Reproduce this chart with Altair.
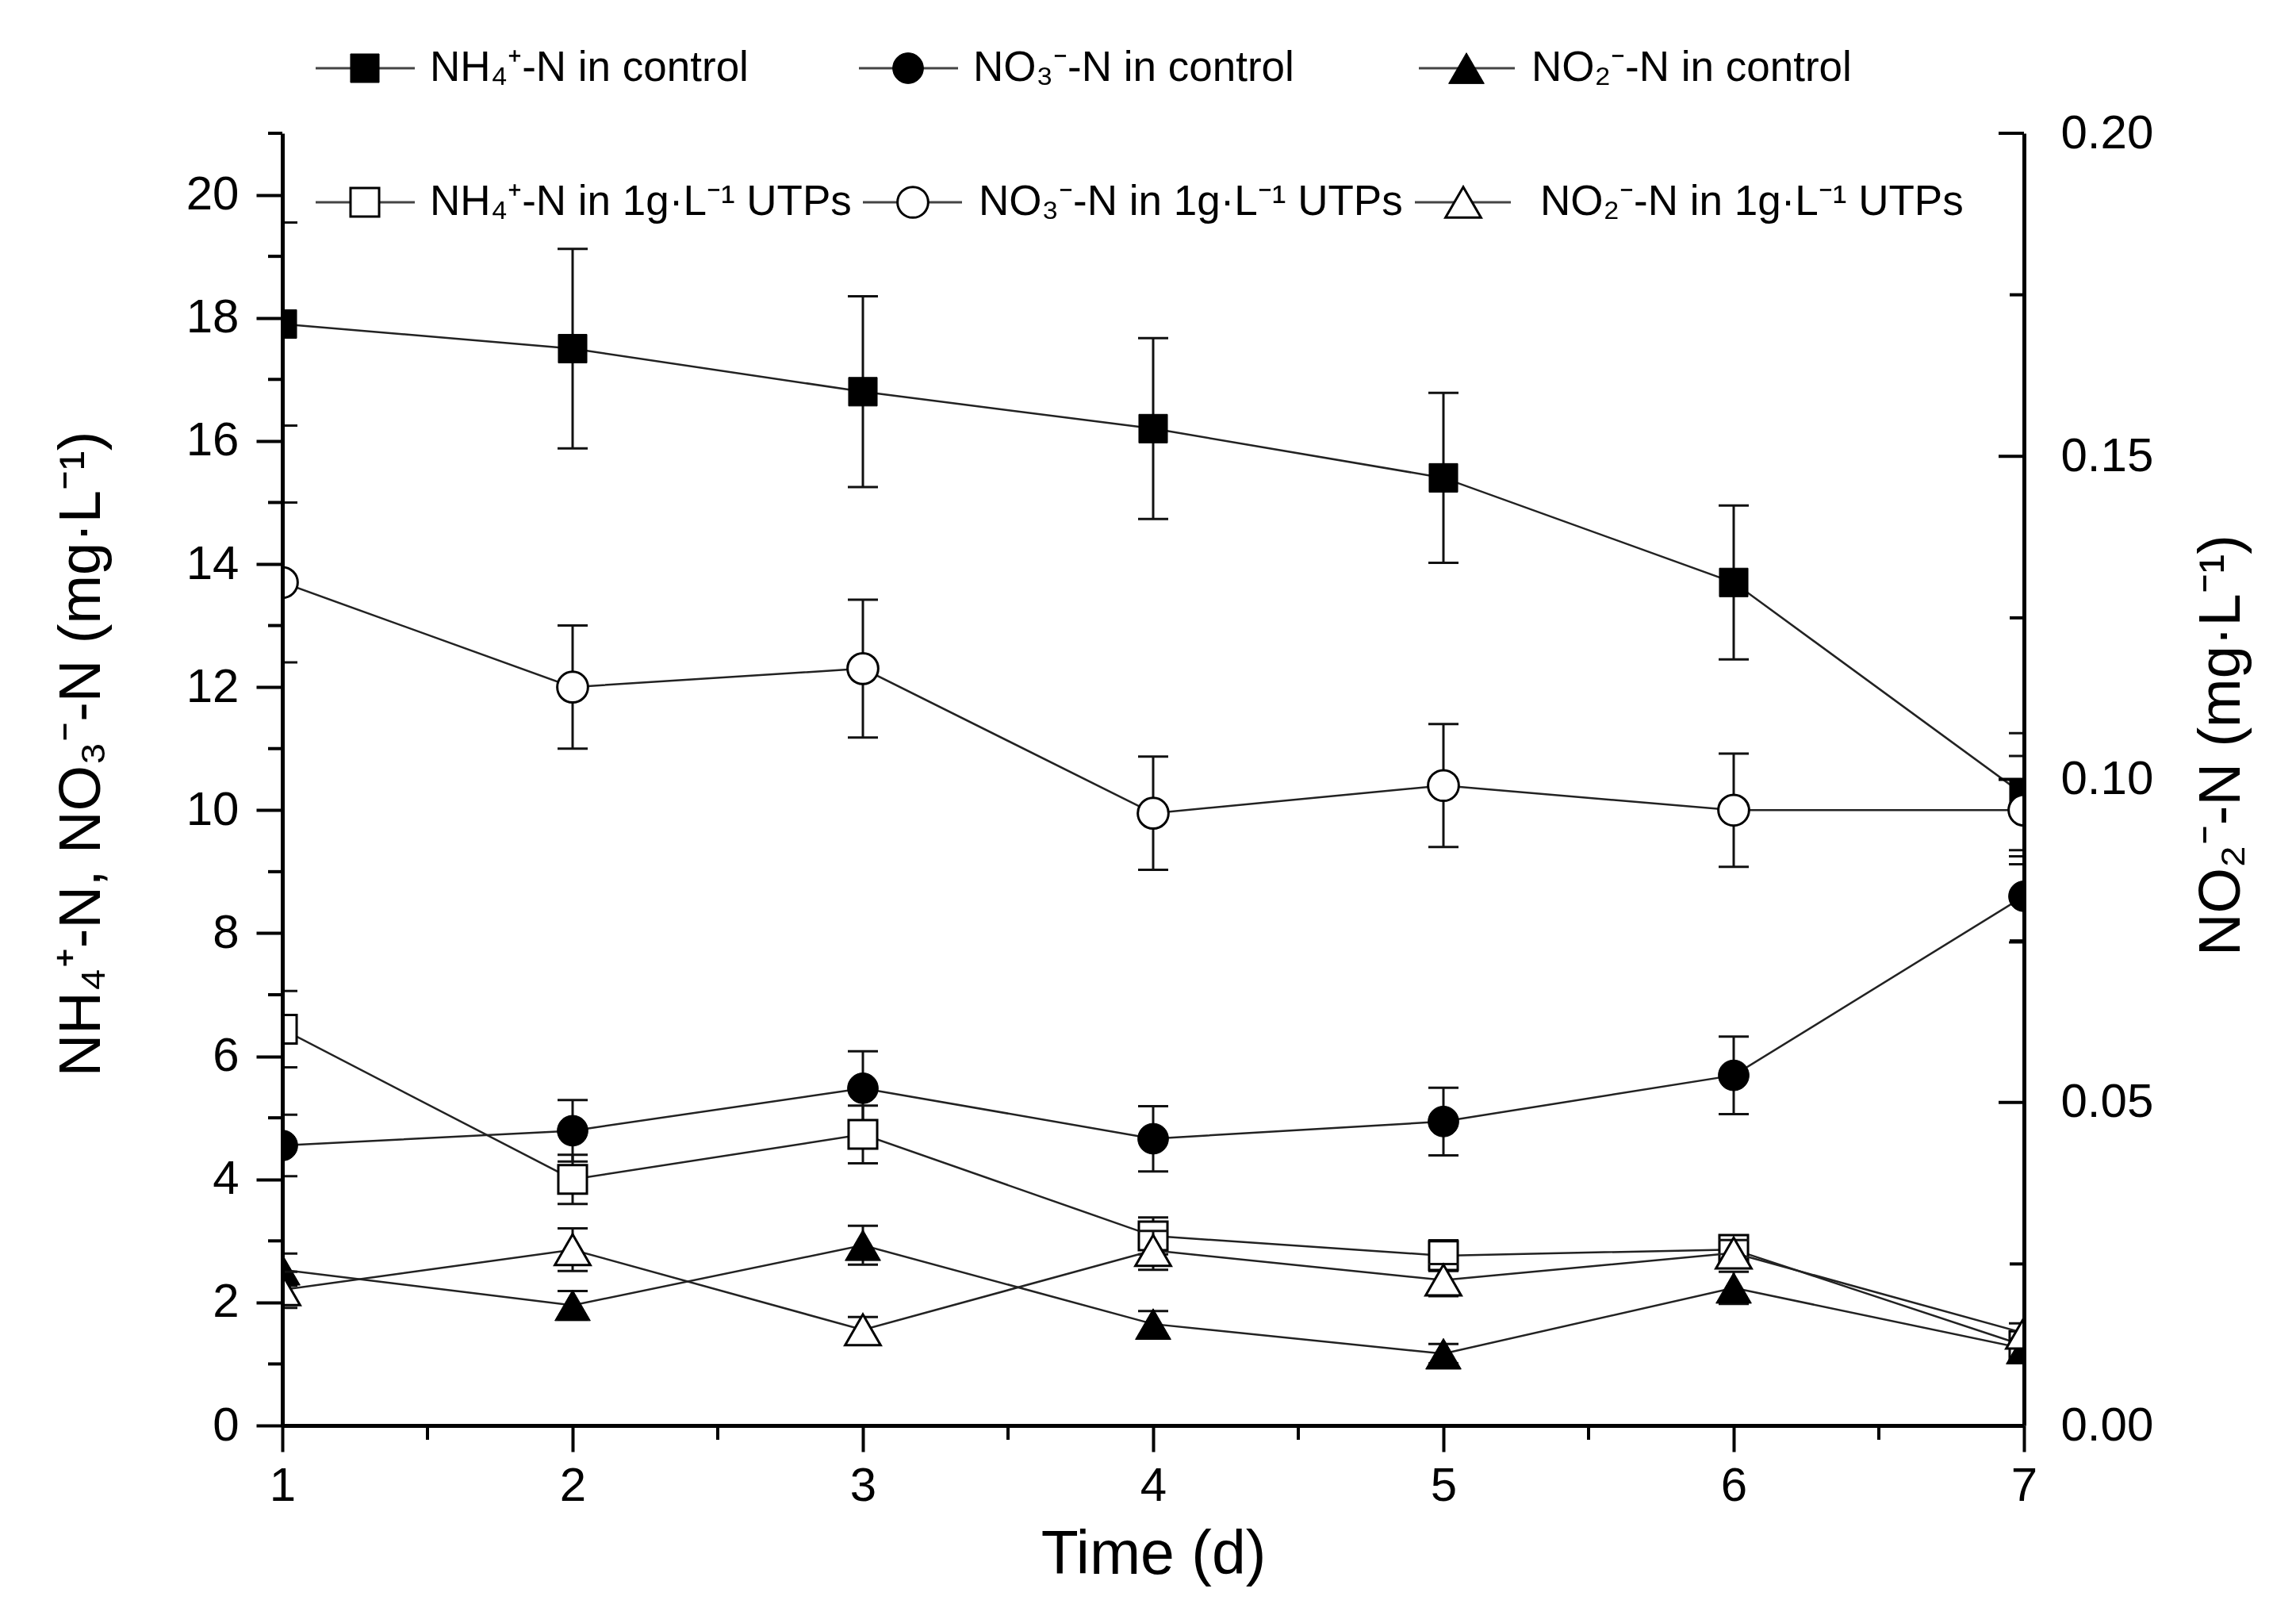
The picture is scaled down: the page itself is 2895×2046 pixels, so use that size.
import altair as alt
import pandas as pd

# ---------------- data ----------------
days = [1, 2, 3, 4, 5, 6, 7]

nh4_control = [17.9, 17.5, 16.8, 16.2, 15.4, 13.7, 10.25]
nh4_control_err = [1.65, 1.62, 1.55, 1.47, 1.38, 1.25, 1.0]
no3_control = [4.55, 4.79, 5.48, 4.66, 4.94, 5.69, 8.6]
no3_control_err = [0.5, 0.5, 0.6, 0.53, 0.55, 0.63, 0.75]
nh4_utps = [6.44, 4.0, 4.73, 3.08, 2.76, 2.86, 1.3]
nh4_utps_err = [0.62, 0.4, 0.47, 0.3, 0.25, 0.2, 0.15]
no3_utps = [13.7, 12.0, 12.3, 9.95, 10.4, 10.0, 10.0]
no3_utps_err = [1.3, 1.0, 1.12, 0.92, 1.0, 0.92, 0.88]

no2_control = [0.0241, 0.0186, 0.0279, 0.0157, 0.0111, 0.0213, 0.0119]
no2_control_err = [0.0025, 0.0022, 0.003, 0.002, 0.0015, 0.0025, 0.0015]
no2_utps = [0.0210, 0.0272, 0.0148, 0.0271, 0.0225, 0.0267, 0.0143]
no2_utps_err = [0.0028, 0.0033, 0.002, 0.003, 0.0025, 0.002, 0.0015]

legend_labels = [
    "NH\u2084\u207a-N in control",
    "NO\u2083\u207b-N in control",
    "NO\u2082\u207b-N in control",
    "NH\u2084\u207a-N in 1g\u00b7L\u207b\u00b9 UTPs",
    "NO\u2083\u207b-N in 1g\u00b7L\u207b\u00b9 UTPs",
    "NO\u2082\u207b-N in 1g\u00b7L\u207b\u00b9 UTPs",
]
x_title = "Time (d)"
left_title = "NH\u2084\u207a-N, NO\u2083\u207b-N (mg\u00b7L\u207b\u00b9)"
right_title = "NO\u2082\u207b-N (mg\u00b7L\u207b\u00b9)"

x_ticks = [1, 2, 3, 4, 5, 6, 7]
x_minor = [1.5, 2.5, 3.5, 4.5, 5.5, 6.5]
left_ticks = [0, 2, 4, 6, 8, 10, 12, 14, 16, 18, 20]
left_minor = [1, 3, 5, 7, 9, 11, 13, 15, 17, 19, 21]
right_ticks = [0.0, 0.05, 0.10, 0.15, 0.20]
right_minor = [0.025, 0.075, 0.125, 0.175]

# ---------------- layout / style ----------------
FONT = "Liberation Sans, Arial, Helvetica, sans-serif"
W, H = 2196, 1629
INK = "#111111"

xscale = alt.Scale(domain=[1, 7], nice=False, zero=False)
ylscale = alt.Scale(domain=[0, 21], nice=False, zero=False)
yrscale = alt.Scale(domain=[0, 0.2], nice=False, zero=False)

xaxis = alt.Axis(values=x_ticks, format="d", title=x_title, tickSize=33, tickWidth=4,
                 domainWidth=5, labelFontSize=60, labelPadding=14, titleFontSize=77,
                 titlePadding=19, labelFlush=False, grid=False, zindex=1)
ylaxis = alt.Axis(values=left_ticks, format="d", title=left_title, orient="left",
                  tickSize=33, tickWidth=4, domainWidth=5, labelFontSize=60,
                  labelPadding=22, titleFontSize=74, titlePadding=93, titleY=782,
                  grid=False, zindex=1)
yraxis = alt.Axis(values=right_ticks, format=".2f", title=right_title, orient="right",
                  ticks=False, tickSize=0, domainWidth=5, labelFontSize=60,
                  labelPadding=46, titleFontSize=74, titleAngle=270, titleBaseline="top",
                  titlePadding=51, titleY=771, grid=False, zindex=1)

SIZES = {"square": 1300, "circle": 1500, "triangle-up": 2000}


def series_layers(vals, errs, shape, filled, yscale, yaxis):
    df = pd.DataFrame({
        "day": days,
        "v": vals,
        "lo": [v - e for v, e in zip(vals, errs)],
        "hi": [v + e for v, e in zip(vals, errs)],
    })
    base = alt.Chart(df)
    x = alt.X("day:Q", scale=xscale, axis=xaxis)
    bar = base.mark_rule(clip=True, strokeWidth=3, color=INK).encode(
        x=x, y=alt.Y("lo:Q", scale=yscale, axis=yaxis), y2="hi:Q")
    cap_lo = base.mark_tick(orient="horizontal", size=38, thickness=3, clip=True,
                            color=INK, opacity=1).encode(
        x=x, y=alt.Y("lo:Q", scale=yscale, axis=yaxis))
    cap_hi = base.mark_tick(orient="horizontal", size=38, thickness=3, clip=True,
                            color=INK, opacity=1).encode(
        x=x, y=alt.Y("hi:Q", scale=yscale, axis=yaxis))
    line = base.mark_line(clip=True, strokeWidth=2.5, color="#222222").encode(
        x=x, y=alt.Y("v:Q", scale=yscale, axis=yaxis))
    pts = base.mark_point(shape=shape, size=SIZES[shape], filled=True,
                          fill="black" if filled else "white", stroke="black",
                          strokeWidth=1 if filled else 3, opacity=1, clip=True).encode(
        x=x, y=alt.Y("v:Q", scale=yscale, axis=yaxis))
    return [bar, cap_lo, cap_hi, line, pts]


left_layers = []
for vals, errs, shape, filled in [
    (nh4_control, nh4_control_err, "square", True),
    (no3_utps, no3_utps_err, "circle", False),
    (no3_control, no3_control_err, "circle", True),
    (nh4_utps, nh4_utps_err, "square", False),
]:
    left_layers += series_layers(vals, errs, shape, filled, ylscale, ylaxis)

# minor ticks on left and bottom axes
left_layers.append(
    alt.Chart(pd.DataFrame({"t": left_minor})).mark_rule(color="black", strokeWidth=4).encode(
        y=alt.Y("t:Q", scale=ylscale, axis=ylaxis), x=alt.value(-18), x2=alt.value(0)))
left_layers.append(
    alt.Chart(pd.DataFrame({"t": x_minor})).mark_rule(color="black", strokeWidth=4).encode(
        x=alt.X("t:Q", scale=xscale, axis=xaxis), y=alt.value(H), y2=alt.value(H + 18)))

right_layers = []
for vals, errs, shape, filled in [
    (no2_control, no2_control_err, "triangle-up", True),
    (no2_utps, no2_utps_err, "triangle-up", False),
]:
    right_layers += series_layers(vals, errs, shape, filled, yrscale, yraxis)

# inward ticks on the right axis
right_layers.append(
    alt.Chart(pd.DataFrame({"t": right_ticks})).mark_rule(color="black", strokeWidth=4).encode(
        y=alt.Y("t:Q", scale=yrscale, axis=yraxis), x=alt.value(W - 32), x2=alt.value(W)))
right_layers.append(
    alt.Chart(pd.DataFrame({"t": right_minor})).mark_rule(color="black", strokeWidth=4).encode(
        y=alt.Y("t:Q", scale=yrscale, axis=yraxis), x=alt.value(W - 18), x2=alt.value(W)))

# ---------------- legend (two rows of three) ----------------
legend_style = [("square", True), ("circle", True), ("triangle-up", True),
                ("square", False), ("circle", False), ("triangle-up", False)]
legend_pos = [  # (line x1, line x2, marker x, text x, row y) in plot pixels
    (42, 167, 104, 186, -82), (727, 852, 789, 871, -82), (1433, 1554, 1493, 1575, -82),
    (42, 167, 104, 186, 87), (732, 857, 795, 878, 87), (1428, 1549, 1489, 1586, 87),
]
one = pd.DataFrame({"a": [0]})
legend_layers = []
for label, (shape, filled), (x1, x2, mx, tx, ly) in zip(legend_labels, legend_style, legend_pos):
    legend_layers.append(alt.Chart(one).mark_rule(color="#444444", strokeWidth=3).encode(
        x=alt.value(x1), x2=alt.value(x2), y=alt.value(ly)))
    legend_layers.append(alt.Chart(one).mark_point(
        shape=shape, size=SIZES[shape], filled=True, fill="black" if filled else "white",
        stroke="black", strokeWidth=1 if filled else 3, opacity=1).encode(
        x=alt.value(mx), y=alt.value(ly)))
    legend_layers.append(alt.Chart(one).mark_text(
        text=label, align="left", baseline="middle", fontSize=53, font=FONT,
        color="black").encode(x=alt.value(tx), y=alt.value(ly)))

left = alt.layer(*left_layers)
right = alt.layer(*right_layers, *legend_layers)

chart = alt.layer(left, right).resolve_scale(y="independent").properties(
    width=W, height=H,
    autosize=alt.AutoSizeParams(type="none"),
    padding={"left": 348, "top": 160, "right": 320, "bottom": 230},
    background="white",
).configure_view(stroke=None).configure_axis(
    labelFont=FONT, titleFont=FONT, labelColor="black", titleColor="black",
    domainColor="black", tickColor="black", titleFontWeight="normal", grid=False,
)

chart.save("out.html", embed_options={"renderer": "svg", "actions": False})
